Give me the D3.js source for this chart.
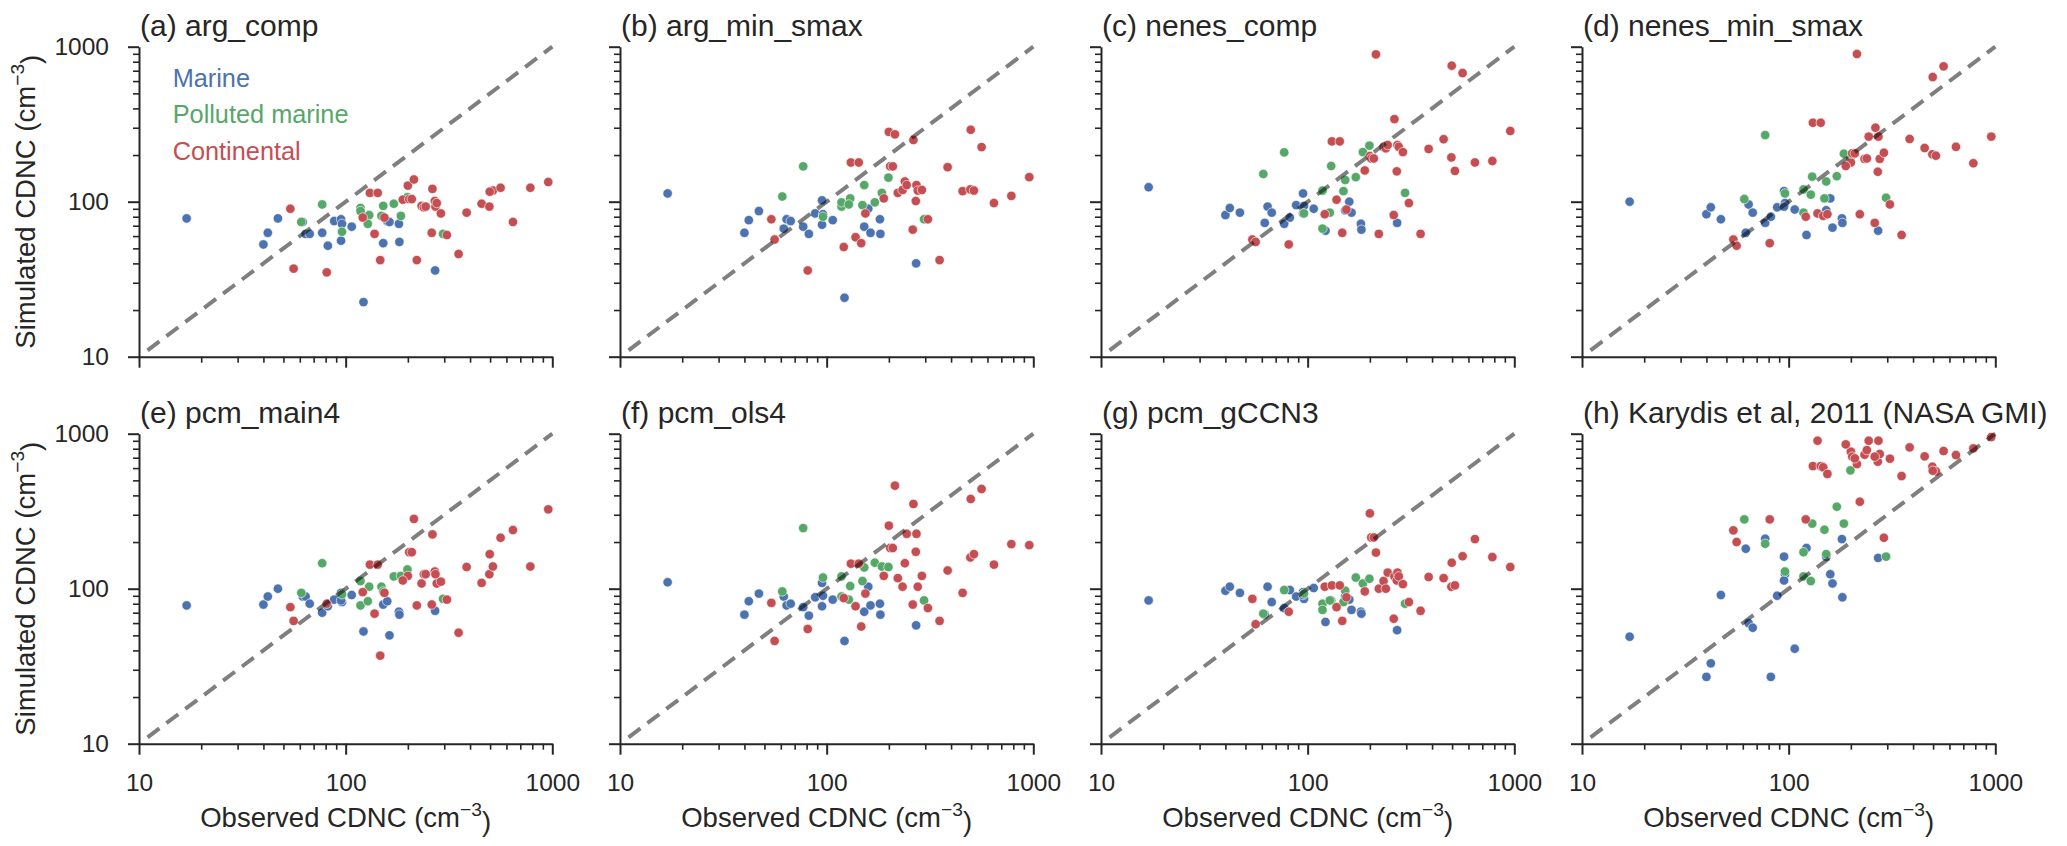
<!DOCTYPE html>
<html>
<head>
<meta charset="utf-8">
<script src="https://cdn.jsdelivr.net/npm/d3@7"></script>
<style>
  body { margin: 0; background: #fff; }
  text { font-family: "Liberation Sans", Arial, sans-serif; fill: #262626; }
</style>
</head>
<body>
<script>
// observed CDNC (cm-3), the same stations in every panel
var obsMarine = [17, 40, 42, 47, 62, 64, 67, 77, 82, 88, 95, 96, 95, 107, 122, 152, 159, 163, 181, 182, 271];
var obsPolluted = [61, 77, 96, 118, 118, 130, 128, 149, 152, 171, 185, 199, 296];
var obsContinental = [54, 56, 81, 121, 131, 143, 138, 147, 154, 200, 214, 189, 203, 209, 221, 233, 239, 244,
                      263, 270, 272, 276, 289, 261, 309, 352, 385, 455, 496, 516, 498, 562, 645, 783, 956];

// simulated CDNC, one set of arrays per panel
var argCompMarine = [78, 53, 63, 78, 74, 62, 62, 63, 52, 75, 77, 72, 56, 69, 22.5, 54, 75, 74, 72, 55, 36];
var argCompPolluted = [74, 96, 64, 91, 87, 82, 72, 81, 94, 97, 81, 107, 62];
var argCompContinental = [90, 37, 35, 79, 114, 114, 62, 42, 79, 127, 139, 103, 104, 104, 42, 94, 92, 93,
                          121, 101, 93, 98, 84, 63, 61, 46, 85, 97, 93, 118, 116, 123, 74, 123, 134];

var argMinMarine = [113, 63, 76, 87, 67, 77, 75, 69, 62, 84, 102, 83, 71, 76, 24, 69, 90, 63, 77, 62, 40];
var argMinPolluted = [108, 169, 80, 93, 99, 105, 96, 95, 128, 99, 114, 143, 77];
var argMinContinental = [77, 57, 36, 51, 179, 179, 59, 54, 84, 282, 272, 105, 169, 169, 114, 119, 135, 128,
                         250, 101, 128, 118, 119, 66, 77, 42, 167, 117, 120, 118, 291, 225, 98, 109, 144];

var nenesCompMarine = [124, 82, 91, 85, 73, 93, 85, 72, 79, 95, 113, 94, 84, 90, 65, 88, 100, 85, 72, 66, 73];
var nenesCompPolluted = [151, 208, 84, 118, 67, 170, 85, 117, 138, 144, 209, 230, 114];
var nenesCompContinental = [57, 55, 53, 83, 245, 245, 103, 63, 89, 197, 892, 159, 190, 190, 62, 226, 221, 232,
                            341, 157, 232, 226, 209, 82, 98, 62, 219, 253, 193, 158, 754, 676, 179, 183, 286];

var nenesMinMarine = [100, 83, 92, 77, 63, 96, 85, 73, 80, 92, 117, 98, 93, 89, 61, 88, 105, 68, 78, 73, 65];
var nenesMinPolluted = [104, 269, 113, 120, 85, 145, 111, 105, 135, 146, 204, 190, 106];
var nenesMinContinental = [57, 52, 54, 80, 323, 323, 84, 81, 83, 179, 897, 170, 205, 205, 83, 189, 190, 263,
                           300, 156, 263, 189, 207, 73, 96, 61, 254, 222, 202, 198, 637, 747, 226, 177, 263];

var pcmMainMarine = [78, 79, 89, 100, 89, 89, 80, 70, 77, 85, 94, 82, 84, 91, 53, 79, 83, 50, 71, 68, 72];
var pcmMainPolluted = [94, 146, 92, 112, 78, 103, 83, 103, 96, 120, 121, 133, 86];
var pcmMainContinental = [76, 62, 80, 95, 143, 143, 69, 37, 94, 121, 282, 113, 172, 172, 78, 108, 124, 124,
                          224, 129, 124, 108, 111, 79, 85, 52, 138, 109, 124, 139, 167, 213, 239, 139, 325];

var pcmOlsMarine = [110, 68, 83, 93, 89, 78, 80, 76, 67, 88, 109, 90, 77, 85, 46, 71, 103, 78, 80, 68, 58];
var pcmOlsPolluted = [96, 246, 118, 120, 89, 104, 85, 112, 137, 147, 139, 138, 84];
var pcmOlsContinental = [81, 46, 55, 87, 145, 145, 77, 57, 93, 255, 462, 121, 183, 183, 117, 103, 146, 226,
                         352, 173, 226, 103, 121, 79, 75, 62, 131, 94, 159, 167, 379, 440, 143, 194, 191];

var pcmGccnMarine = [84, 97, 103, 94, 68, 103, 82, 75, 98, 89, 95, 86, 91, 101, 61, 89, 85, 73, 71, 69, 54];
var pcmGccnPolluted = [69, 98, 93, 80, 73, 84, 84, 82, 97, 118, 108, 116, 80];
var pcmGccnContinental = [86, 59, 71, 103, 105, 105, 76, 62, 88, 306, 171, 96, 214, 214, 100, 112, 100, 127,
                          120, 113, 127, 120, 107, 64, 82, 72, 119, 117, 103, 105, 147, 162, 209, 160, 138];

var karydisMarine = [49, 27, 33, 91, 181, 60, 56, 210, 27, 90, 161, 124, 113, 41, 183, 161, 124, 108, 209, 88, 158];
var karydisPolluted = [280, 195, 129, 172, 120, 263, 112, 240, 167, 338, 263, 580, 161];
var karydisContinental = [238, 200, 280, 280, 618, 618, 901, 607, 550, 766, 637, 853, 711, 693, 364, 732, 784, 901,
                          711, 660, 901, 740, 213, 711, 690, 533, 816, 714, 612, 571, 577, 773, 728, 804, 951];

var panelTitles = ["(a) arg_comp", "(b) arg_min_smax", "(c) nenes_comp", "(d) nenes_min_smax",
                   "(e) pcm_main4", "(f) pcm_ols4", "(g) pcm_gCCN3", "(h) Karydis et al, 2011 (NASA GMI)"];
var groupNames = ["Marine", "Polluted marine", "Continental"];
var majorTicks = [10, 100, 1000];
var minorTicks = [20, 30, 40, 50, 60, 70, 80, 90, 200, 300, 400, 500, 600, 700, 800, 900];
var oneToOne = [11, 1000];

var colors = ["#4c72b0", "#55a868", "#c44e52"];
var observed = [obsMarine, obsPolluted, obsContinental];
var simulated = [
  [argCompMarine, argCompPolluted, argCompContinental],
  [argMinMarine, argMinPolluted, argMinContinental],
  [nenesCompMarine, nenesCompPolluted, nenesCompContinental],
  [nenesMinMarine, nenesMinPolluted, nenesMinContinental],
  [pcmMainMarine, pcmMainPolluted, pcmMainContinental],
  [pcmOlsMarine, pcmOlsPolluted, pcmOlsContinental],
  [pcmGccnMarine, pcmGccnPolluted, pcmGccnContinental],
  [karydisMarine, karydisPolluted, karydisContinental]
];

// layout
var margin = {left: 139, top: 46.7};
var panelW = 413.3, panelH = 310;
var stepX = 481, stepY = 387;

var svg = d3.select("body")
    .append("svg")
    .attr("width", 2067)
    .attr("height", 846);

var x = d3.scaleLog().domain([10, 1000]).range([0, panelW]);
var y = d3.scaleLog().domain([10, 1000]).range([panelH, 0]);

function styleAxis(sel, width) {
  sel.select(".domain").attr("stroke", "#262626").attr("stroke-width", 2);
  sel.selectAll(".tick line").attr("stroke", "#262626").attr("stroke-width", width);
  sel.selectAll(".tick text").attr("font-size", "24.5px").attr("fill", "#262626")
     .attr("font-family", "'Liberation Sans', Arial, sans-serif");
}

function addUnitLabel(textSel, main) {
  textSel.append("tspan").text(main + " (cm");
  textSel.append("tspan").attr("dy", "-0.55em").attr("font-size", "70%").text("\u22123");
  textSel.append("tspan").attr("dy", "0.55em").text(")");
}

simulated.forEach(function(sim, i) {
  var col = i % 4, row = Math.floor(i / 4);
  var g = svg.append("g")
      .attr("transform", "translate(" + (margin.left + col * stepX) + "," + (margin.top + row * stepY) + ")");

  // minor ticks first, no spine
  g.append("g").attr("transform", "translate(0," + panelH + ")")
    .call(d3.axisBottom(x).tickValues(minorTicks).tickSize(6).tickSizeOuter(0).tickFormat(""))
    .call(styleAxis, 1.6)
    .select(".domain").remove();
  g.append("g")
    .call(d3.axisLeft(y).tickValues(minorTicks).tickSize(6).tickSizeOuter(0).tickFormat(""))
    .call(styleAxis, 1.6)
    .select(".domain").remove();

  // major ticks + spines
  g.append("g").attr("transform", "translate(0," + panelH + ")")
    .call(d3.axisBottom(x).tickValues(majorTicks).tickSize(11).tickPadding(19).tickSizeOuter(0)
      .tickFormat(row == 1 ? d3.format("d") : ""))
    .call(styleAxis, 2);
  g.append("g")
    .call(d3.axisLeft(y).tickValues(majorTicks).tickSize(11).tickPadding(19).tickSizeOuter(0)
      .tickFormat(col == 0 ? d3.format("d") : ""))
    .call(styleAxis, 2);

  // points: marine, polluted marine, continental
  sim.forEach(function(vals, k) {
    g.append("g").selectAll("circle")
      .data(d3.zip(observed[k], vals))
      .join("circle")
      .attr("cx", function(d) { return x(d[0]); })
      .attr("cy", function(d) { return y(d[1]); })
      .attr("r", 4.7)
      .attr("fill", colors[k])
      .attr("stroke", "#fff")
      .attr("stroke-width", 0.6);
  });

  // 1:1 line on top
  g.append("path")
    .datum(oneToOne)
    .attr("d", d3.line().x(function(d) { return x(d); }).y(function(d) { return y(d); }))
    .attr("fill", "none")
    .attr("stroke", "#000")
    .attr("stroke-opacity", 0.5)
    .attr("stroke-width", 4)
    .attr("stroke-dasharray", "14.8,8.8");

  // title
  g.append("text")
    .attr("x", 1)
    .attr("y", -10.7)
    .attr("font-size", "30px")
    .text(panelTitles[i]);

  if (row == 1) {
    g.append("text")
      .attr("x", panelW / 2)
      .attr("y", panelH + 83)
      .attr("font-size", "27.5px")
      .attr("text-anchor", "middle")
      .call(addUnitLabel, "Observed CDNC");
  }
  if (col == 0) {
    g.append("text")
      .attr("transform", "translate(" + (35 - margin.left) + "," + (panelH / 2) + ") rotate(-90)")
      .attr("font-size", "27.5px")
      .attr("text-anchor", "middle")
      .call(addUnitLabel, "Simulated CDNC");
  }

  // legend as coloured text in the first panel
  if (i == 0) {
    groupNames.forEach(function(name, k) {
      g.append("text")
        .attr("x", 33.7)
        .attr("y", 40 + k * 36.7)
        .attr("font-size", "25.3px")
        .style("fill", colors[k])
        .text(name);
    });
  }
});
</script>
</body>
</html>
